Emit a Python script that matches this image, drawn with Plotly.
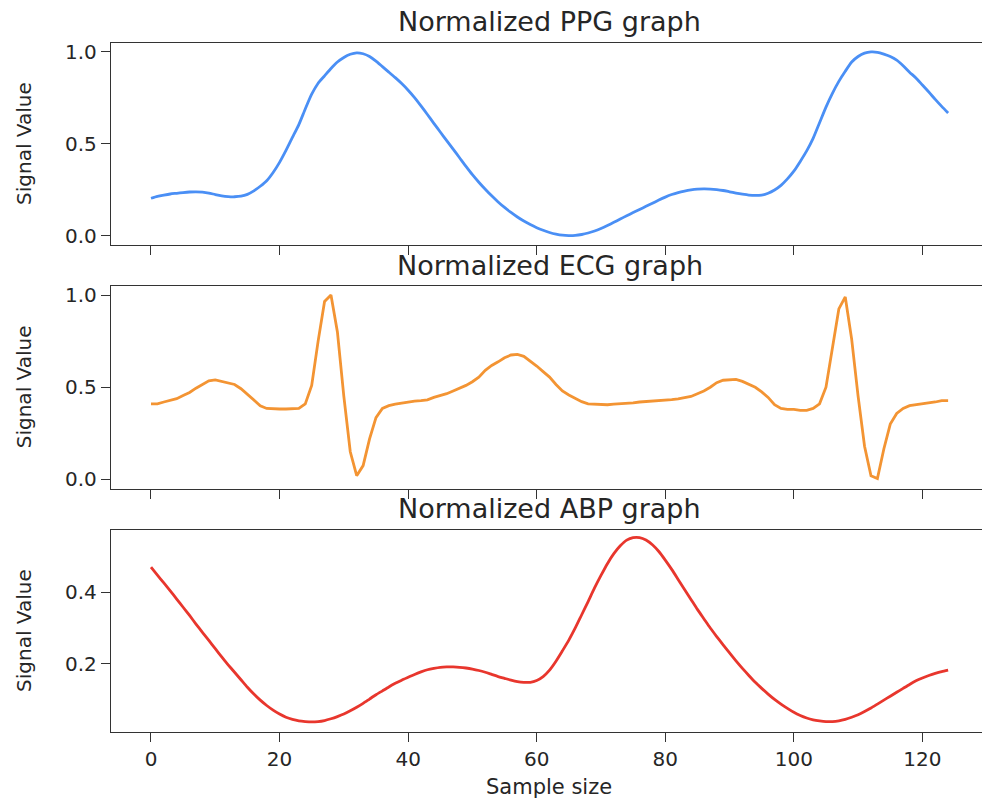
import plotly.graph_objects as go

W, H = 982, 801

samples = list(range(125))

ppg = [0.205, 0.215, 0.222, 0.228, 0.232, 0.236, 0.239, 0.240, 0.238, 0.233,
       0.225, 0.218, 0.214, 0.213, 0.216, 0.226, 0.245, 0.270, 0.300, 0.345,
       0.400, 0.465, 0.535, 0.605, 0.690, 0.770, 0.830, 0.870, 0.910, 0.945,
       0.970, 0.987, 0.995, 0.990, 0.975, 0.950, 0.920, 0.890, 0.860, 0.828,
       0.792, 0.752, 0.707, 0.660, 0.612, 0.565, 0.518, 0.472, 0.425, 0.378,
       0.333, 0.292, 0.254, 0.218, 0.185, 0.155, 0.128, 0.103, 0.081, 0.062,
       0.045, 0.031, 0.019, 0.010, 0.004, 0.002, 0.003, 0.008, 0.016, 0.027,
       0.041, 0.057, 0.074, 0.092, 0.110, 0.127, 0.144, 0.161, 0.178, 0.195,
       0.211, 0.225, 0.236, 0.244, 0.250, 0.254, 0.256, 0.255, 0.252, 0.247,
       0.240, 0.233, 0.227, 0.222, 0.220, 0.222, 0.232, 0.250, 0.275, 0.310,
       0.352, 0.405, 0.462, 0.530, 0.615, 0.700, 0.775, 0.840, 0.895, 0.945,
       0.975, 0.993, 1.000, 0.998, 0.988, 0.975, 0.955, 0.925, 0.890, 0.858,
       0.820, 0.782, 0.742, 0.704, 0.668]

ecg = [0.410, 0.410, 0.420, 0.430, 0.438, 0.455, 0.472, 0.495, 0.515, 0.535,
       0.540, 0.533, 0.525, 0.515, 0.492, 0.462, 0.432, 0.400, 0.385, 0.382,
       0.382, 0.382, 0.382, 0.385, 0.410, 0.510, 0.750, 0.965, 1.000, 0.800,
       0.450, 0.150, 0.020, 0.075, 0.220, 0.335, 0.385, 0.400, 0.408, 0.415,
       0.420, 0.425, 0.428, 0.432, 0.445, 0.455, 0.465, 0.480, 0.495, 0.510,
       0.530, 0.555, 0.592, 0.618, 0.638, 0.660, 0.675, 0.678, 0.668, 0.643,
       0.615, 0.585, 0.555, 0.515, 0.480, 0.458, 0.440, 0.422, 0.410, 0.408,
       0.405, 0.405, 0.408, 0.410, 0.410, 0.415, 0.420, 0.422, 0.424, 0.427,
       0.430, 0.433, 0.437, 0.443, 0.450, 0.465, 0.480, 0.500, 0.525, 0.538,
       0.542, 0.543, 0.532, 0.518, 0.500, 0.475, 0.445, 0.405, 0.385, 0.380,
       0.380, 0.375, 0.375, 0.385, 0.410, 0.500, 0.720, 0.925, 0.990, 0.760,
       0.450, 0.180, 0.020, 0.005, 0.165, 0.300, 0.358, 0.385, 0.400, 0.405,
       0.410, 0.412, 0.420, 0.428, 0.428]

abp = [0.470, 0.448, 0.426, 0.404, 0.381, 0.358, 0.335, 0.311, 0.288, 0.265,
       0.242, 0.219, 0.197, 0.176, 0.155, 0.134, 0.115, 0.098, 0.083, 0.070,
       0.059, 0.050, 0.044, 0.040, 0.038, 0.037, 0.038, 0.041, 0.046, 0.052,
       0.059, 0.068, 0.078, 0.089, 0.101, 0.113, 0.124, 0.135, 0.145, 0.154,
       0.162, 0.170, 0.177, 0.183, 0.187, 0.190, 0.191, 0.191, 0.190, 0.188,
       0.185, 0.181, 0.176, 0.170, 0.164, 0.159, 0.154, 0.150, 0.148, 0.148,
       0.153, 0.164, 0.182, 0.207, 0.236, 0.266, 0.300, 0.337, 0.374, 0.412,
       0.447, 0.480, 0.508, 0.530, 0.546, 0.553, 0.553, 0.546, 0.533, 0.514,
       0.490, 0.464, 0.436, 0.408, 0.380, 0.352, 0.326, 0.300, 0.276, 0.253,
       0.230, 0.208, 0.187, 0.167, 0.148, 0.131, 0.115, 0.100, 0.087, 0.075,
       0.064, 0.055, 0.048, 0.043, 0.040, 0.038, 0.038, 0.040, 0.044, 0.050,
       0.057, 0.066, 0.076, 0.087, 0.098, 0.109, 0.120, 0.131, 0.142, 0.152,
       0.160, 0.167, 0.173, 0.178, 0.182]

titles = ["Normalized PPG graph", "Normalized ECG graph", "Normalized ABP graph"]
y_label = "Signal Value"
x_label = "Sample size"
x_ticks = [0, 20, 40, 60, 80, 100, 120]
y_ticks = [[0.0, 0.5, 1.0], [0.0, 0.5, 1.0], [0.2, 0.4]]

series = [ppg, ecg, abp]
colors = ["#4a8ff5", "#f39433", "#e8362d"]
shapes = ["spline", "linear", "spline"]

# layout (pixel positions of the panels)
x_left_px = 111
panels_px = [(40, 244), (285, 489.3), (530.7, 734.7)]
y_ranges = [[-0.05, 1.05], [-0.05, 1.05], [0.0083, 0.575]]
x_range = [-6.22, 129.27]
title_px = [19, 264, 509]

FONT = "DejaVu Sans"
TXT = "#262626"
AX = "#333333"


def py(p):
    return 1 - p / H


fig = go.Figure()
layout = dict(
    width=W, height=H,
    margin=dict(l=0, r=0, t=0, b=0),
    paper_bgcolor="white", plot_bgcolor="white",
    showlegend=False,
    font=dict(family=FONT, color=TXT, size=20),
    annotations=[],
)

for k in range(3):
    sfx = "" if k == 0 else str(k + 1)
    fig.add_trace(go.Scatter(
        x=samples, y=series[k], mode="lines",
        line=dict(color=colors[k], width=2.8, shape=shapes[k], smoothing=0.6),
        xaxis="x" + sfx, yaxis="y" + sfx, hoverinfo="skip",
    ))
    top, bot = panels_px[k]
    layout["xaxis" + sfx] = dict(
        domain=[x_left_px / W, 1], range=x_range, anchor="y" + sfx,
        showline=True, linecolor=AX, linewidth=1.3, mirror=True,
        ticks="outside", ticklen=9, tickwidth=1.3, tickcolor=AX,
        tickvals=x_ticks, showticklabels=(k == 2),
        tickfont=dict(size=20, family=FONT, color=TXT),
        showgrid=False, zeroline=False,
    )
    layout["yaxis" + sfx] = dict(
        domain=[py(bot), py(top)], range=y_ranges[k], anchor="x" + sfx,
        showline=True, linecolor=AX, linewidth=1.3, mirror=False,
        ticks="outside", ticklen=9, tickwidth=1.3, tickcolor=AX,
        tickvals=y_ticks[k], tickformat=".1f",
        tickfont=dict(size=20, family=FONT, color=TXT),
        showgrid=False, zeroline=False,
    )
    # panel title
    layout["annotations"].append(dict(
        text=titles[k], xref="paper", yref="paper",
        x=549.5 / W, y=py(title_px[k]), xanchor="center", yanchor="middle",
        showarrow=False, font=dict(size=27, family=FONT, color=TXT),
    ))
    # y label
    layout["annotations"].append(dict(
        text=y_label, xref="paper", yref="paper",
        x=24 / W, y=py((top + bot) / 2), xanchor="center", yanchor="middle",
        textangle=-90, showarrow=False, font=dict(size=20, family=FONT, color=TXT),
    ))

layout["annotations"].append(dict(
    text=x_label, xref="paper", yref="paper",
    x=549 / W, y=py(790), xanchor="center", yanchor="middle",
    showarrow=False, font=dict(size=21, family=FONT, color=TXT),
))

fig.update_layout(**layout)
fig.write_html("out.html")
